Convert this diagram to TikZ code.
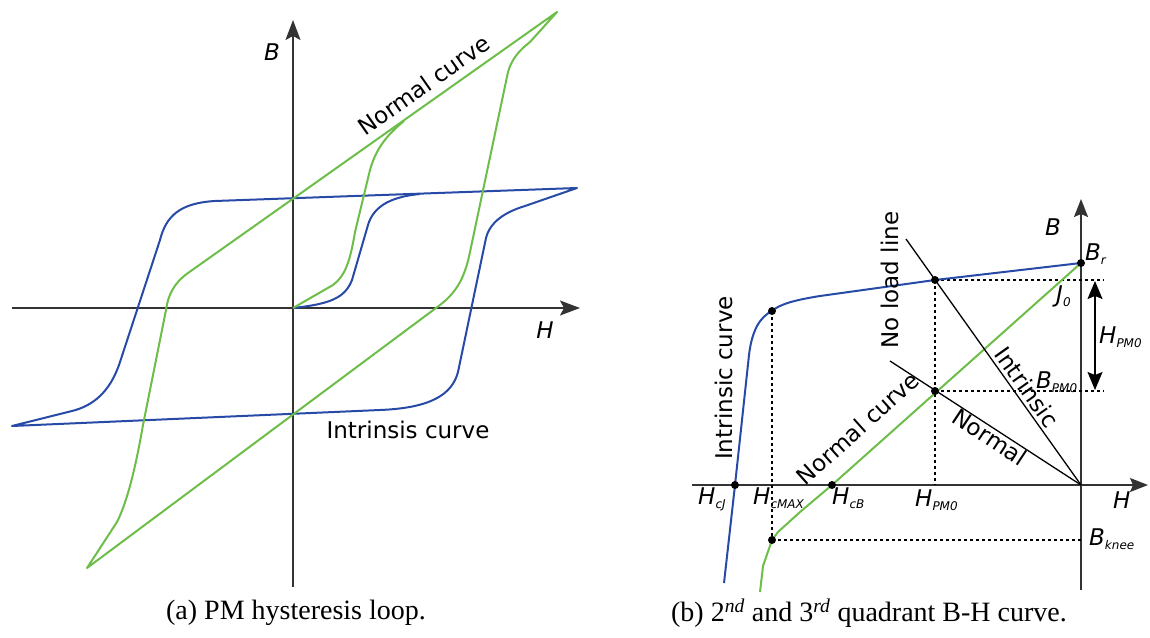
\documentclass[tikz,border=0pt]{standalone}
\usepackage{fontspec}
\setmainfont{Liberation Serif}
\newfontfamily\labfont{DejaVu Sans}
\usetikzlibrary{arrows.meta}
\definecolor{cblue}{RGB}{38,74,166}
\definecolor{cgreen}{RGB}{108,190,72}
\definecolor{caxis}{RGB}{51,51,51}
\newcommand{\sbs}[1]{\raisebox{-0.35ex}{\fontsize{12}{12}\selectfont #1}}
\begin{document}
\begin{tikzpicture}[x=1pt,y=-1pt,
  lab/.style={font=\labfont\fontsize{23}{23}\selectfont, inner sep=0pt},
  ilab/.style={font=\labfont\itshape\fontsize{23}{23}\selectfont, inner sep=0pt},
  axisarrow/.style={caxis, line width=1.6pt, -{Stealth[length=20pt,width=15pt,inset=4pt]}},
  raxis/.style={caxis, line width=1.6pt, -{Stealth[length=18pt,width=14pt,inset=3pt]}},
  bluecurve/.style={cblue, line width=2pt, line join=round},
  greencurve/.style={cgreen, line width=2pt, line join=round},
  blk/.style={black, line width=1.3pt},
  dots/.style={black, line width=1.2pt, dash pattern=on 3pt off 3pt},
  dot/.style={circle, fill=black, inner sep=0pt, minimum size=8pt},
  captext/.style={font=\fontsize{28}{28}\selectfont, inner sep=0pt}]
\useasboundingbox (0,0) rectangle (1150,637);

% ---------- (a) ----------
\coordinate (lO) at (293,308);
\coordinate (lHs) at (12,308);
\coordinate (lHe) at (580,308);
\coordinate (lBs) at (293,587);
\coordinate (lBe) at (293,20);
\draw[axisarrow] (lHs) -- (lHe);
\draw[axisarrow] (lBs) -- (lBe);

\draw[bluecurve] (577,188) -- (215,201) .. controls (180,203) and (166,216) .. (160,240)
  -- (120,362) .. controls (110,393) and (92,406) .. (72,411) -- (12,426)
  -- (380,410) .. controls (430,408) and (452,395) .. (458,372)
  -- (486,238) .. controls (490,222) and (505,212) .. (525,206) -- cycle;
\draw[bluecurve] (lO) .. controls (330,304) and (345,298) .. (352,280)
  -- (368,225) .. controls (373,208) and (388,197) .. (420,194);

\draw[greencurve] (557,12) -- (188,273) .. controls (174,283) and (168,295) .. (166,310)
  -- (143,425) .. controls (136,465) and (128,500) .. (117,522) -- (87,568)
  -- (440,305) .. controls (458,291) and (465,276) .. (470,252)
  -- (508,72) .. controls (512,58) and (520,50) .. (530,42) -- cycle;
\draw[greencurve] (lO) -- (333,285) .. controls (345,276) and (350,262) .. (355,232)
  -- (370,170) .. controls (376,148) and (388,134) .. (404,121);

\node[ilab] (lBl) at (272,52) {B};
\node[ilab] (lHl) at (545,330) {H};
\node[lab, rotate=35] (ncl) at (424,85) {Normal curve};
\node[lab] (icl) at (408,430) {Intrinsis curve};

% ---------- (b) ----------
\coordinate (rO) at (1081,485);
\coordinate (rHs) at (692,485);
\coordinate (rHe) at (1148,485);
\coordinate (rBs) at (1081,590);
\coordinate (rBe) at (1081,199);
\draw[raxis] (rHs) -- (rHe);
\draw[raxis] (rBs) -- (rBe);

\coordinate (Br) at (1081,263);
\coordinate (Pi) at (935,280);
\coordinate (Pc) at (772,311);
\coordinate (Pn) at (935,391);
\coordinate (HcJ) at (735,485);
\coordinate (HcB) at (832,485);
\coordinate (Pk) at (772,540);

% dotted helpers
\draw[dots] (Pi) -- (1104,280);
\draw[dots] (Pi) -- (935,485);
\draw[dots] (Pn) -- (1104,391);
\draw[dots] (Pc) -- (Pk);
\draw[dots] (Pk) -- (1081,540);

% curves
\draw[bluecurve] (Br) -- (Pi) -- (820,296) .. controls (795,300) and (780,304) .. (Pc)
  .. controls (760,317) and (752,330) .. (749,355) -- (HcJ) -- (724,583);
\draw[greencurve] (Br) -- (HcB) -- (800,512) -- (778,532) -- (Pk) -- (763,566) -- (760,592);

% load lines
\coordinate (nl) at (906,239);
\coordinate (ll) at (890,361);
\draw[blk] (nl) -- (rO);
\draw[blk] (ll) -- (rO);

% double arrow
\coordinate (da1) at (1095,281);
\coordinate (da2) at (1095,390);
\draw[black, line width=1.3pt, {Stealth[length=18pt,width=15pt,inset=3pt]}-{Stealth[length=18pt,width=15pt,inset=3pt]}] (da1) -- (da2);

% dots
\node[dot] (dBr) at (Br) {};
\node[dot] (dPi) at (Pi) {};
\node[dot] (dPc) at (Pc) {};
\node[dot] (dPn) at (Pn) {};
\node[dot] (dHcJ) at (HcJ) {};
\node[dot] (dHcB) at (HcB) {};
\node[dot] (dPk) at (Pk) {};

% labels
\node[ilab, anchor=base west] (rBl) at (1045,235) {B};
\node[ilab, anchor=base west] (Brl) at (1085,260) {B\sbs{r}};
\node[ilab, anchor=base west] (J0l) at (1056,302) {J\sbs{0}};
\node[ilab, anchor=base west] (HPMl) at (1099,343) {H\sbs{PM0}};
\node[ilab, anchor=base west] (BPMl) at (1036,388) {B\sbs{PM0}};
\node[ilab, anchor=base west] (HcJl) at (698,504) {H\sbs{cJ}};
\node[ilab, anchor=base west] (HcMl) at (753,504) {H\sbs{cMAX}};
\node[ilab, anchor=base west] (HcBl) at (832,504) {H\sbs{cB}};
\node[ilab, anchor=base west] (HPM2l) at (915,506) {H\sbs{PM0}};
\node[ilab, anchor=base west] (rHl) at (1113,508) {H};
\node[ilab, anchor=base west] (Bkl) at (1089,545) {B\sbs{knee}};

\node[lab, rotate=90] (nll) at (890,280) {No load line};
\node[lab, rotate=-54.7] (intl) at (1027,387) {Intrinsic};
\node[lab, rotate=-33.5] (norml) at (990,437) {Normal};
\node[lab, rotate=41.8] (ncr) at (858,428) {Normal curve};
\node[lab, rotate=90] (icr) at (724,378) {Intrinsic curve};

% captions
\node[captext] (capa) at (296,613) {(a) PM hysteresis loop.};
\node[captext] (capb) at (869,613) {(b) 2\textsuperscript{\itshape nd} and 3\textsuperscript{\itshape rd} quadrant B-H curve.};
\end{tikzpicture}
\end{document}
